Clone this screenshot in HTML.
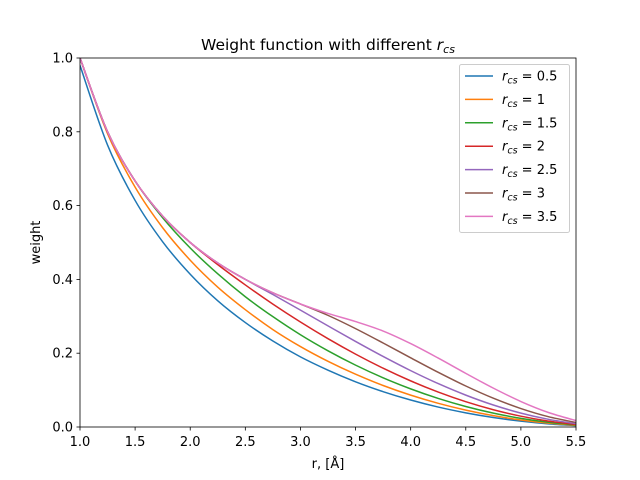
<!DOCTYPE html>
<html><head><meta charset="utf-8"><style>
body{margin:0;background:#fff}
svg{display:block;font-family:"DejaVu Sans","Liberation Sans",sans-serif}
</style></head><body>
<svg id="chart" width="640" height="480">
<rect width="640" height="480" fill="#fff"/>
<g id="plot"></g>
</svg>
<script>
const rValues=[1,1.25,1.5,1.75,2,2.25,2.5,2.75,3,3.25,3.5,3.75,4,4.25,4.5,4.75,5,5.25,5.5];
const seriesNames=["0.5","1","1.5","2","2.5","3","3.5"];
const seriesColors=["#1f77b4","#ff7f0e","#2ca02c","#d62728","#9467bd","#8c564b","#e377c2"];
const w05=[.980,.764,.614,.502,.414,.342,.283,.233,.190,.154,.1225,.0958,.0731,.054,.0384,.0257,.0159,.0086,.0037];
const w10=[1,.795,.650,.540,.452,.379,.318,.264,.218,.178,.143,.1125,.0864,.0642,.0458,.0308,.0191,.0104,.0045];
const w15=[1,.8,.6667,.567,.485,.415,.353,.299,.250,.2065,.1677,.1333,.1033,.0774,.0556,.0376,.0234,.0128,.0055];
const w20=[1,.8,.6667,.5714,.5,.440,.385,.333,.2845,.2393,.1975,.1593,.125,.0947,.0686,.0468,.0293,.016,.0069];
const w25=[1,.8,.6667,.5714,.5,.4444,.4,.359,.3168,.2741,.2319,.1912,.1528,.1176,.0864,.0596,.0377,.0208,.009];
const w30=[1,.8,.6667,.5714,.5,.4444,.4,.3636,.3333,.3025,.2666,.2276,.1875,.1481,.1111,.078,.05,.0279,.0122];
const w35=[1,.8,.6667,.5714,.5,.4444,.4,.3636,.3333,.3077,.2857,.2601,.2261,.1868,.1454,.1053,.0691,.0393,.0174];
const allSeries=[w05,w10,w15,w20,w25,w30,w35];
const xTicks=[1,1.5,2,2.5,3,3.5,4,4.5,5,5.5];
const yTicks=[0,0.2,0.4,0.6,0.8,1.0];

const L=80,R=576,T=58,B=427,NS="http://www.w3.org/2000/svg";
const X=v=>L+(v-1)/4.5*(R-L);
const Y=v=>B-v*(B-T);
const g=document.getElementById('plot');
function el(t,a,p){const e=document.createElementNS(NS,t);for(const k in a)e.setAttribute(k,a[k]);(p||g).appendChild(e);return e;}
function smooth(pts){let d=`M${pts[0][0]},${pts[0][1]}`;for(let i=0;i<pts.length-1;i++){const p0=pts[Math.max(0,i-1)],p1=pts[i],p2=pts[i+1],p3=pts[Math.min(pts.length-1,i+2)];d+=`C${p1[0]+(p2[0]-p0[0])/6},${p1[1]+(p2[1]-p0[1])/6} ${p2[0]-(p3[0]-p1[0])/6},${p2[1]-(p3[1]-p1[1])/6} ${p2[0]},${p2[1]}`;}return d;}
const cp=el('clipPath',{id:'cp'});el('rect',{x:L,y:T,width:R-L,height:B-T},cp);
allSeries.forEach((s,i)=>{
 const p=el('path',{d:smooth(s.map((v,j)=>[X(rValues[j]),Y(v)])),fill:'none',stroke:seriesColors[i],'stroke-width':1.5,'clip-path':'url(#cp)'});
 
 
});
const frame=el('rect',{x:L,y:T,width:R-L,height:B-T,fill:'none',stroke:'#000','stroke-width':0.8});


xTicks.forEach(v=>{
 el('line',{x1:X(v),x2:X(v),y1:B,y2:B+3.5,stroke:'#000','stroke-width':0.8});
 const t=el('text',{x:X(v),y:B+19,'text-anchor':'middle','font-size':13});t.textContent=v.toFixed(1);
 
 
});
yTicks.forEach(v=>{
 el('line',{x1:L-3.5,x2:L,y1:Y(v),y2:Y(v),stroke:'#000','stroke-width':0.8});
 const t=el('text',{x:L-7,y:Y(v)+4.5,'text-anchor':'end','font-size':13});t.textContent=v.toFixed(1);
 
 
});
const xt=el('text',{x:(L+R)/2,y:468,'text-anchor':'middle','font-size':13});xt.textContent='r, [Å]';


const yt=el('text',{x:40,y:(T+B)/2,'text-anchor':'middle','font-size':13,transform:`rotate(-90 40 ${(T+B)/2})`});yt.textContent='weight';


const tt=el('text',{x:(L+R)/2,y:50,'text-anchor':'middle','font-size':15.5});
tt.innerHTML='Weight function with different <tspan font-style="italic">r</tspan><tspan font-style="italic" font-size="11" dy="3">cs</tspan>';


const lg=el('g',{});


el('rect',{x:459.5,y:64.5,width:110,height:168,rx:2,fill:'#fff','fill-opacity':0.8,stroke:'#ccc','stroke-width':1},lg);
seriesNames.forEach((n,i)=>{
 const y=76+i*23.4;
 const e=el('g',{},lg);
 
 
 el('line',{x1:465,x2:493,y1:y,y2:y,stroke:seriesColors[i],'stroke-width':1.5},e);
 const t=el('text',{x:502,y:y+4.5,'font-size':13},e);
 t.innerHTML=`<tspan font-style="italic">r</tspan><tspan font-style="italic" font-size="9.5" dy="3">cs</tspan><tspan dy="-3"> = ${n}</tspan>`;
});
</script>
</body></html>
